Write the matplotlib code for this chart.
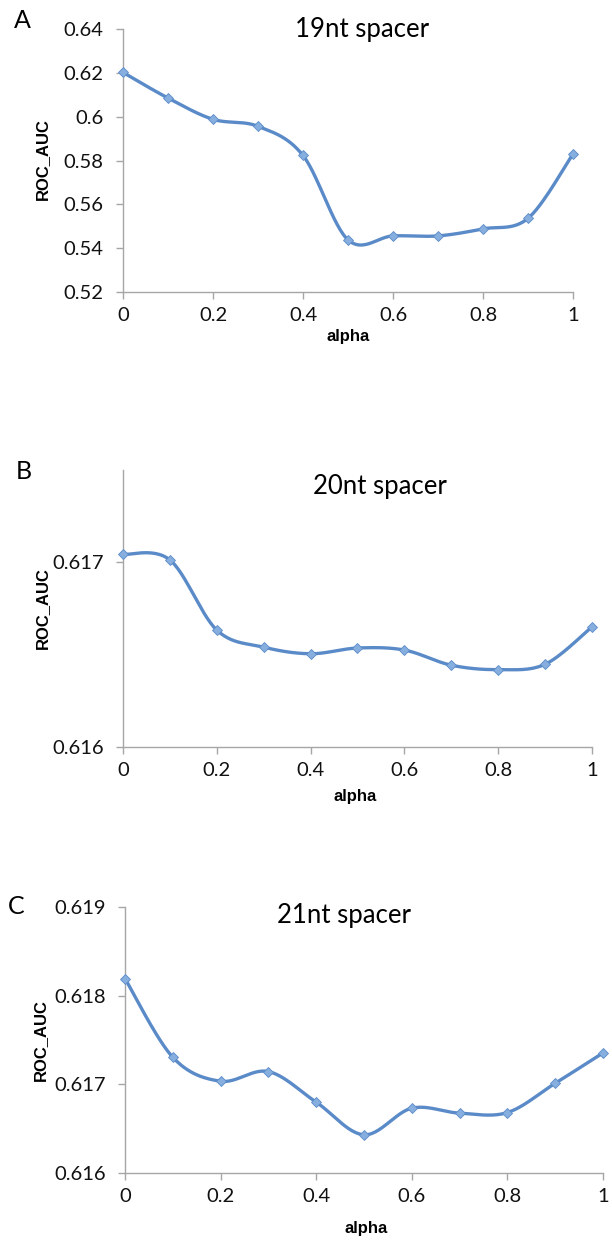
import numpy as np
import matplotlib.pyplot as plt

# ROC_AUC against alpha for three spacer lengths
alpha = [0, 0.1, 0.2, 0.3, 0.4, 0.5, 0.6, 0.7, 0.8, 0.9, 1.0]
auc_19nt = [0.6202, 0.6085, 0.5988, 0.5956, 0.5823, 0.5438, 0.5456, 0.5456, 0.5488, 0.5536, 0.5830]
auc_20nt = [0.617043, 0.617013, 0.616633, 0.616541, 0.616505, 0.616536, 0.616525,
            0.616443, 0.616419, 0.616448, 0.616651]
auc_21nt = [0.618193, 0.617305, 0.617035, 0.617144, 0.616799, 0.616431, 0.616731,
            0.616675, 0.616682, 0.617012, 0.617354]

W, H = 612, 1243
fig = plt.figure(figsize=(W / 100, H / 100), dpi=100)
fig.patch.set_facecolor('white')
plt.rcParams['font.family'] = ['Lato', 'DejaVu Sans']

line_col = '#5A8BC8'
mark_col = '#86AEDF'
spine_col = '#A6A6A6'
bold_font = ['Liberation Sans', 'DejaVu Sans']


def px(x, y):
    # pixel position (from top-left) -> figure fraction
    return x / W, 1 - y / H


def smooth(xs, ys, n=30):
    # bezier smoothing through every point (catmull-rom style)
    p = np.column_stack([xs, ys]).astype(float)
    p = np.vstack([p[0], p, p[-1]])
    t = np.linspace(0, 1, n)[:, None]
    segs = []
    for i in range(1, len(p) - 2):
        p0, p1 = p[i], p[i + 1]
        c1 = p0 + (p[i + 1] - p[i - 1]) / 6
        c2 = p1 - (p[i + 2] - p[i]) / 6
        b = ((1 - t) ** 3) * p0 + 3 * ((1 - t) ** 2) * t * c1 + 3 * (1 - t) * t ** 2 * c2 + t ** 3 * p1
        segs.append(b)
    out = np.vstack(segs)
    return out[:, 0], out[:, 1]


def panel(left, right, top, bottom, ys, ylim, yticks, ylabels, title, title_xy, letter, letter_xy,
          ylab_xy, xlab_xy):
    l, b = px(left, bottom)
    r, t = px(right, top)
    ax = fig.add_axes([l, b, r - l, t - b])
    sx, sy = smooth(alpha, ys)
    ax.plot(sx, sy, color=line_col, lw=2.4, solid_capstyle='round', zorder=2, clip_on=False)
    ax.plot(alpha, ys, linestyle='none', marker='D', ms=5.5, color=mark_col,
            markeredgecolor=line_col, markeredgewidth=0.6, zorder=3, clip_on=False)
    ax.set_xlim(0, 1)
    ax.set_ylim(*ylim)
    ax.set_xticks([0, 0.2, 0.4, 0.6, 0.8, 1])
    ax.set_xticklabels(['0', '0.2', '0.4', '0.6', '0.8', '1'])
    ax.set_yticks(yticks)
    ax.set_yticklabels(ylabels)
    for s in ['top', 'right']:
        ax.spines[s].set_visible(False)
    for s in ['left', 'bottom']:
        ax.spines[s].set_color(spine_col)
        ax.spines[s].set_linewidth(1.0)
    ax.tick_params(axis='both', colors=spine_col, labelcolor='#111111', labelsize=14.5,
                   length=5, width=1.0, direction='out')
    ax.tick_params(axis='y', pad=9)
    ax.tick_params(axis='x', pad=6)
    ax.set_facecolor('none')

    fig.text(*px(*title_xy), title, fontsize=18.5, ha='center', va='center')
    fig.text(*px(*letter_xy), letter, fontsize=18, ha='center', va='center')
    fig.text(*px(*ylab_xy), 'ROC_AUC', fontsize=12, fontweight='bold', rotation=90,
             ha='center', va='center', family=bold_font)
    fig.text(*px(*xlab_xy), 'alpha', fontsize=12, fontweight='bold', ha='center', va='center',
             family=bold_font)
    return ax


panel(123, 573, 29, 292, auc_19nt, (0.52, 0.64),
      [0.52, 0.54, 0.56, 0.58, 0.60, 0.62, 0.64],
      ['0.52', '0.54', '0.56', '0.58', '0.6', '0.62', '0.64'],
      '19nt spacer', (362, 30), 'A', (22, 20), (42, 159), (348, 336))

panel(123, 592, 470, 747, auc_20nt, (0.616, 0.6175),
      [0.616, 0.617], ['0.616', '0.617'],
      '20nt spacer', (380, 487), 'B', (24, 472), (42, 608), (355, 797))

panel(125, 603, 907, 1173, auc_21nt, (0.616, 0.619),
      [0.616, 0.617, 0.618, 0.619], ['0.616', '0.617', '0.618', '0.619'],
      '21nt spacer', (344, 916), 'C', (16, 906), (40, 1040), (366, 1228))

fig.savefig('out.png', dpi=100)
